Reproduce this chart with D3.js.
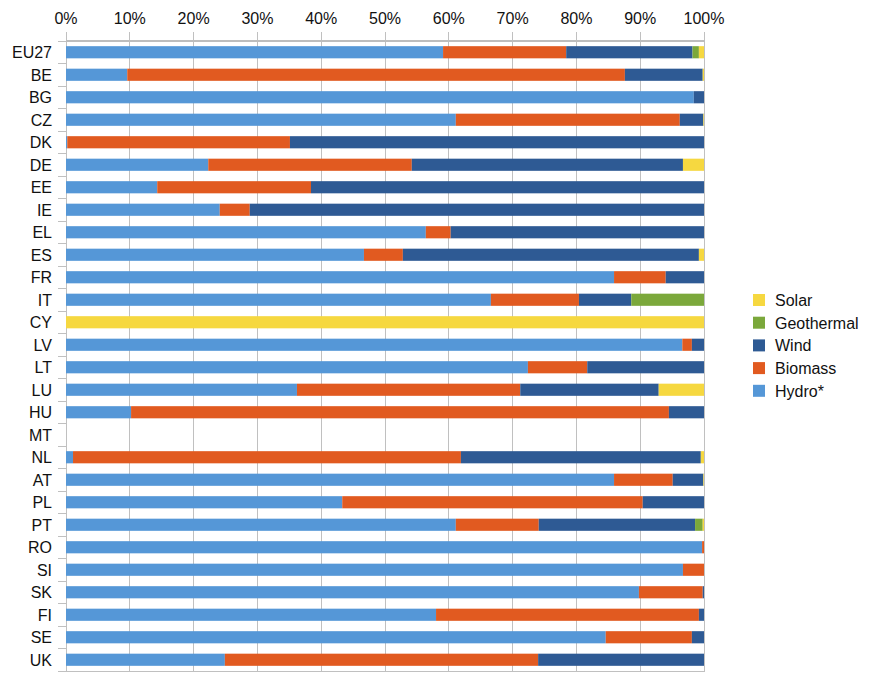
<!DOCTYPE html>
<html><head><meta charset="utf-8">
<script src="https://d3js.org/d3.v7.min.js"></script>
<style>body{margin:0;background:#fff}svg{display:block}text{font-family:"Liberation Sans",Arial,sans-serif}</style>
</head><body><svg id="c" width="881" height="693"></svg>
<script>
const categories = ["EU27","BE","BG","CZ","DK","DE","EE","IE","EL","ES","FR","IT","CY","LV","LT","LU","HU","MT","NL","AT","PL","PT","RO","SI","SK","FI","SE","UK"];
const seriesNames = ["Hydro*","Biomass","Wind","Geothermal","Solar"];
const hydro      = [59.1, 9.6,98.4,61.1, 0.2,22.3,14.3,24.1,56.4,46.7,85.9,66.6,  0,96.6,72.4,36.2,10.2,0, 1.1,85.9,43.3,61.1,99.7,96.7,89.8,58.0,84.6,24.9];
const biomass    = [19.3,78.0,   0,35.1,34.9,31.9,24.1, 4.7, 3.9, 6.1, 8.1,13.8,  0, 1.5, 9.3,35.0,84.3,0,60.8, 9.2,47.1,13.0, 0.3, 3.3,10.0,41.2,13.5,49.1];
const wind       = [19.8,12.2, 1.6, 3.7,64.9,42.5,61.6,71.2,39.7,46.4, 6.0, 8.2,  0, 1.9,18.3,21.7, 5.5,0,37.6, 4.8, 9.6,24.5,   0,   0, 0.2, 0.8, 1.9,26.0];
const geothermal = [ 1.0,   0,   0,   0,   0,   0,   0,   0,   0,   0,   0,11.4,  0,   0,   0,   0,   0,0,   0,   0,   0, 1.2,   0,   0,   0,   0,   0,   0];
const solar      = [ 0.8, 0.2,   0, 0.1,   0, 3.3,   0,   0,   0, 0.8,   0,   0,100,   0,   0, 7.1,   0,0, 0.5, 0.1,   0, 0.2,   0,   0,   0,   0,   0,   0];
const xTicks = [0,10,20,30,40,50,60,70,80,90,100];
const colors = ["#5597d7","#e15a20","#2e5a94","#7ba83b","#f6d840"];

const svg = d3.select("#c");
const m = {l:66, r:704, t:41, b:671};
const x = d3.scaleLinear().domain([0,100]).range([m.l, m.r]);
const y = d3.scaleBand().domain(categories).range([m.t, m.b]).paddingInner(0.46).paddingOuter(0.23);
const yb = d3.scaleBand().domain(categories).range([m.t, m.b]);

// gridlines
svg.append("g").selectAll("line").data(xTicks).join("line")
  .attr("x1", d=>x(d)).attr("x2", d=>x(d)).attr("y1", m.t-9).attr("y2", m.b)
  .attr("stroke", "#c0c0c0").attr("stroke-width", 1).attr("shape-rendering","crispEdges");
// top axis line
svg.append("line").attr("x1", m.l).attr("x2", m.r+1).attr("y1", m.t).attr("y2", m.t)
  .attr("stroke","#bdbdbd").attr("stroke-width",2).attr("shape-rendering","crispEdges");
// bottom line
svg.append("line").attr("x1", m.l).attr("x2", m.r+1).attr("y1", m.b).attr("y2", m.b)
  .attr("stroke","#c0c0c0").attr("stroke-width",1).attr("shape-rendering","crispEdges");
// left axis ticks
const bounds = categories.map(c=>yb(c)).concat([m.b]);
svg.append("g").selectAll("line").data(bounds).join("line")
  .attr("x1", m.l-8).attr("x2", m.l).attr("y1", d=>d).attr("y2", d=>d)
  .attr("stroke","#c0c0c0").attr("shape-rendering","crispEdges");

// tick labels
svg.append("g").selectAll("text").data(xTicks).join("text")
  .attr("x", d=>x(d)).attr("y", 24).attr("text-anchor","middle")
  .attr("font-size", 16).attr("fill","#111").text(d=>d+"%");

// category labels
svg.append("g").selectAll("text").data(categories).join("text")
  .attr("x", 52).attr("y", d=>yb(d)+yb.bandwidth()/2+6).attr("text-anchor","end")
  .attr("font-size", 16).attr("fill","#111").text(d=>d);

// stacked data
const rows = categories.map((c,i)=>({cat:c, "Hydro*":hydro[i], "Biomass":biomass[i], "Wind":wind[i], "Geothermal":geothermal[i], "Solar":solar[i]}));
const stack = d3.stack().keys(seriesNames)(rows);
svg.append("g").selectAll("g").data(stack).join("g").attr("fill",(d,i)=>colors[i])
  .selectAll("rect").data(d=>d).join("rect")
  .attr("x", d=>x(d[0])).attr("width", d=>Math.max(0, x(d[1])-x(d[0])))
  .attr("y", d=>y(d.data.cat)).attr("height", y.bandwidth());

// legend
const legendOrder = ["Solar","Geothermal","Wind","Biomass","Hydro*"];
const lg = svg.append("g").attr("transform","translate(753,294)");
legendOrder.forEach((n,i)=>{
  const ci = seriesNames.indexOf(n);
  lg.append("rect").attr("x",0).attr("y",i*22.7).attr("width",12).attr("height",12).attr("fill",colors[ci]);
  lg.append("text").attr("x",22).attr("y",i*22.7+12).attr("font-size",16).attr("fill","#111").text(n);
});
</script></body></html>
